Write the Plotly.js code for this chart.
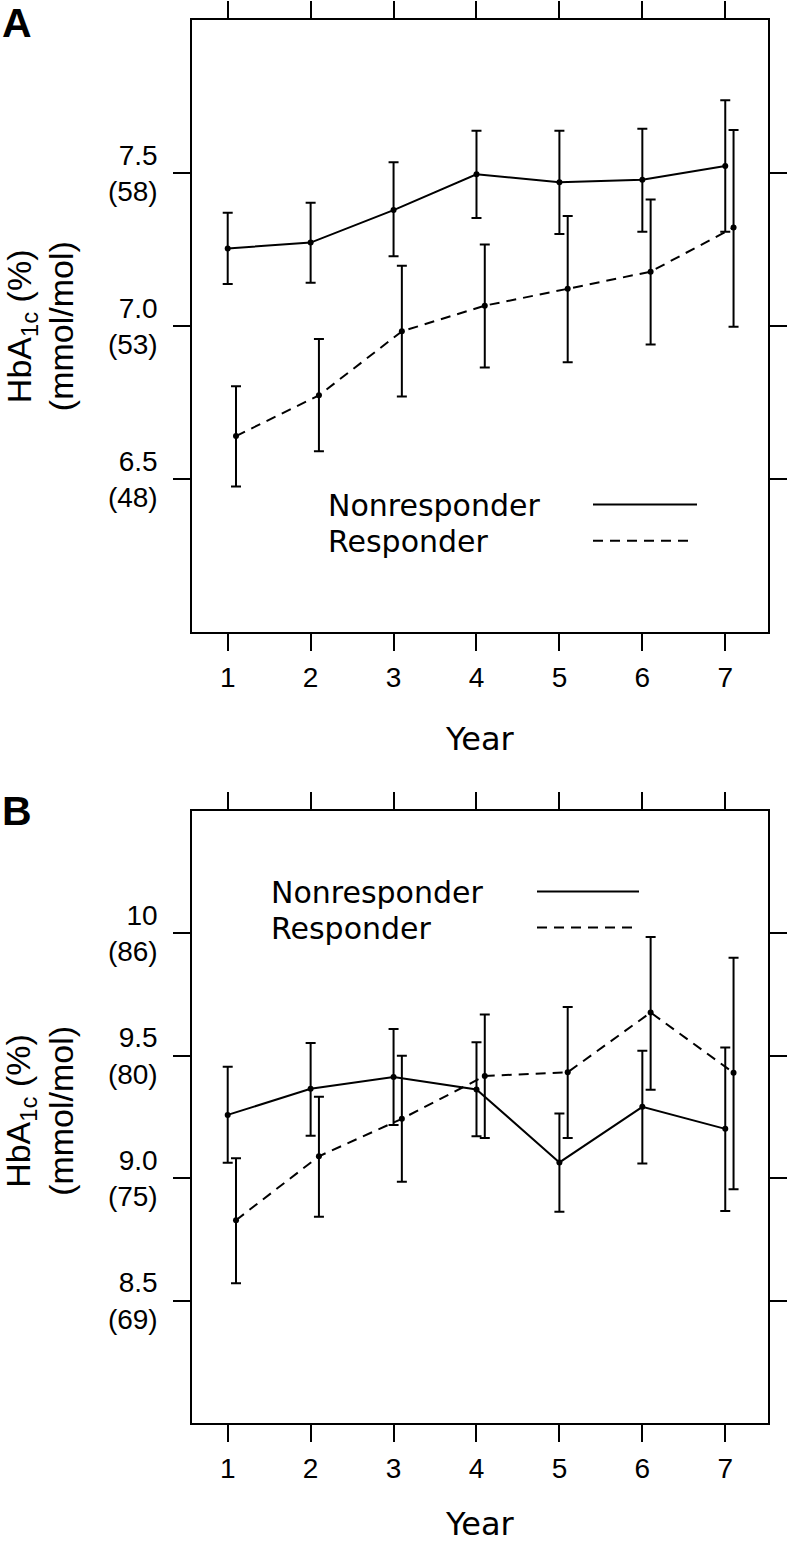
<!DOCTYPE html>
<html>
<head>
<meta charset="utf-8">
<script src="https://cdn.plot.ly/plotly-3.0.1.min.js"></script>
<style>html,body{margin:0;padding:0;background:#fff;}#chart{width:789px;height:1544px;}</style>
</head>
<body>
<div id="chart"></div>
<script>
// ---- data ----
const years = [1, 2, 3, 4, 5, 6, 7];
const yearLabels = ["1", "2", "3", "4", "5", "6", "7"];

// Panel A
const nonA_mean  = [7.254, 7.273, 7.379, 7.496, 7.470, 7.478, 7.523];
const nonA_upper = [7.370, 7.403, 7.535, 7.638, 7.638, 7.645, 7.738];
const nonA_lower = [7.138, 7.142, 7.228, 7.353, 7.301, 7.308, 7.308];
const resA_mean  = [6.641, 6.774, 6.983, 7.067, 7.122, 7.178, 7.322];
const resA_upper = [6.804, 6.958, 7.197, 7.267, 7.360, 7.414, 7.641];
const resA_lower = [6.476, 6.591, 6.770, 6.865, 6.882, 6.940, 6.998];
const tickValsA  = [6.5, 7.0, 7.5];
const tickTextA  = ["6.5<br>(48)", "7.0<br>(53)", "7.5<br>(58)"];

// Panel B
const nonB_mean  = [9.258, 9.365, 9.413, 9.362, 9.064, 9.291, 9.201];
const nonB_upper = [9.455, 9.552, 9.609, 9.555, 9.264, 9.520, 9.533];
const nonB_lower = [9.063, 9.173, 9.217, 9.171, 8.863, 9.060, 8.866];
const resB_mean  = [8.828, 9.089, 9.242, 9.417, 9.432, 9.676, 9.430];
const resB_upper = [9.081, 9.332, 9.499, 9.668, 9.699, 9.984, 9.900];
const resB_lower = [8.571, 8.842, 8.985, 9.164, 9.164, 9.361, 8.954];
const tickValsB  = [8.5, 9.0, 9.5, 10];
const tickTextB  = ["8.5<br>(69)", "9.0<br>(75)", "9.5<br>(80)", "10<br>(86)"];

const seriesNames = ["Nonresponder", "Responder"];

// ---- layout helpers ----
const W = 789, H = 1544;
const px = v => v / W;
const py = v => 1 - v / H;
const FONT = "Liberation Sans, Arial, sans-serif";
const WIDE = "DejaVu Sans, Liberation Sans, sans-serif";
const DASH = "10px,7px";
const respOffset = 0.1;

function errTrace(x, mean, upper, lower, dash, xa, ya, name) {
  return {
    type: "scatter", mode: "lines+markers", name: name,
    x: x, y: mean, xaxis: xa, yaxis: ya,
    line: {color: "#000", width: 2, dash: dash},
    marker: {color: "#000", size: 6},
    error_y: {
      type: "data", symmetric: false,
      array: upper.map((u, i) => u - mean[i]),
      arrayminus: lower.map((l, i) => mean[i] - l),
      color: "#000", thickness: 2, width: 5
    },
    showlegend: false, hoverinfo: "x+y"
  };
}

const xResp = years.map(y => y + respOffset);
const data = [
  errTrace(years, nonA_mean, nonA_upper, nonA_lower, "solid", "x", "y", seriesNames[0]),
  errTrace(xResp, resA_mean, resA_upper, resA_lower, DASH, "x", "y", seriesNames[1]),
  errTrace(years, nonB_mean, nonB_upper, nonB_lower, "solid", "x2", "y2", seriesNames[0]),
  errTrace(xResp, resB_mean, resB_upper, resB_lower, DASH, "x2", "y2", seriesNames[1])
];

const xDomain = [px(192.3), px(768.3)];
function xAxis(anchor) {
  return {
    domain: xDomain, range: [0.573, 7.519], anchor: anchor,
    tickmode: "array", tickvals: years, ticktext: yearLabels,
    ticks: "outside", ticklen: 17, tickwidth: 2, tickcolor: "#000",
    showline: true, linewidth: 2, linecolor: "#000", mirror: "ticks",
    showgrid: false, zeroline: false,
    tickfont: {family: FONT, size: 28, color: "#000"},
    ticklabelstandoff: 2
  };
}
function yAxis(anchor, dom, range, tv, tt) {
  return {
    domain: dom, range: range, anchor: anchor,
    tickmode: "array", tickvals: tv, ticktext: tt,
    ticks: "outside", ticklen: 17, tickwidth: 2, tickcolor: "#000",
    showline: true, linewidth: 2, linecolor: "#000", mirror: "ticks",
    showgrid: false, zeroline: false,
    tickfont: {family: FONT, size: 28, color: "#000"},
    ticklabelstandoff: 10
  };
}

const boxA = [20, 632.3], boxB = [810.7, 1423];
const midA = (boxA[0] + boxA[1]) / 2, midB = (boxB[0] + boxB[1]) / 2;
const midX = (192.3 + 768.3) / 2;

function ann(text, x, y, size, opts, family) {
  return Object.assign({
    text: text, xref: "paper", yref: "paper", x: px(x), y: py(y),
    xanchor: "center", yanchor: "middle", showarrow: false, borderpad: 0,
    font: {family: family || FONT, size: size, color: "#000"}
  }, opts || {});
}

const annotations = [
  ann("<b>A</b>", 1, 23, 41, {xanchor: "left"}),
  ann("<b>B</b>", 1, 811, 41, {xanchor: "left"}),
  ann("HbA<sub>1c</sub> (%)", 21, midA, 34, {textangle: -90}),
  ann("(mmol/mol)", 61, midA, 34, {textangle: -90}),
  ann("HbA<sub>1c</sub> (%)", 21, midB - 6, 34, {textangle: -90}),
  ann("(mmol/mol)", 61, midB - 6, 34, {textangle: -90}),
  ann("Year", midX, 739, 32, {}, WIDE),
  ann("Year", midX, 1524, 32, {}, WIDE),
  ann(seriesNames[0], 327, 505, 30, {xanchor: "left"}, WIDE),
  ann(seriesNames[1], 327, 541, 30, {xanchor: "left"}, WIDE),
  ann(seriesNames[0], 270, 892, 30, {xanchor: "left"}, WIDE),
  ann(seriesNames[1], 270, 928, 30, {xanchor: "left"}, WIDE)
];

function legLine(x0, x1, y, dash) {
  return {type: "line", xref: "paper", yref: "paper",
    x0: px(x0), x1: px(x1), y0: py(y), y1: py(y),
    line: {color: "#000", width: 2, dash: dash}};
}
const shapes = [
  legLine(593, 697, 504.5, "solid"),
  legLine(593, 695, 540.7, DASH),
  legLine(537, 639, 891.5, "solid"),
  legLine(537, 637, 927.5, DASH)
];

const layout = {
  width: W, height: H,
  margin: {l: 0, r: 0, t: 0, b: 0, pad: 0},
  paper_bgcolor: "#fff", plot_bgcolor: "#fff",
  font: {family: FONT, color: "#000"},
  showlegend: false,
  xaxis: xAxis("y"),
  yaxis: yAxis("x", [py(boxA[1]), py(boxA[0])], [6, 8], tickValsA, tickTextA),
  xaxis2: xAxis("y2"),
  yaxis2: yAxis("x2", [py(boxB[1]), py(boxB[0])], [8, 10.5], tickValsB, tickTextB),
  annotations: annotations,
  shapes: shapes
};

Plotly.newPlot("chart", data, layout, {displayModeBar: false, staticPlot: true});
</script>
</body>
</html>
